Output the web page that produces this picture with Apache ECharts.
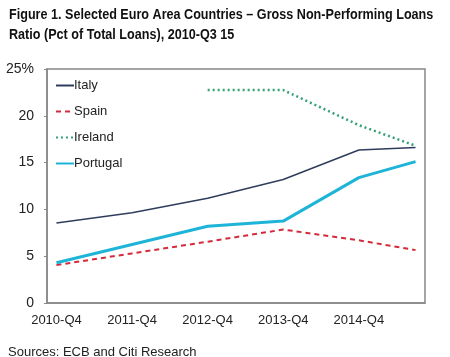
<!DOCTYPE html>
<html><head><meta charset="utf-8">
<script src="https://cdn.jsdelivr.net/npm/echarts@6/dist/echarts.min.js"></script>
<style>html,body{margin:0;padding:0;background:#fff}#c{width:450px;height:357px}</style>
</head><body><div id="c"></div>
<script>
const categories = ['2010-Q4','2011-Q1','2011-Q2','2011-Q3','2011-Q4','2012-Q1','2012-Q2','2012-Q3','2012-Q4','2013-Q1','2013-Q2','2013-Q3','2013-Q4','2014-Q1','2014-Q2','2014-Q3','2014-Q4','2015-Q1','2015-Q2','2015-Q3'];
const italy    = [8.55,null,null,null,9.65,null,null,null,11.2,null,null,null,13.2,null,null,null,16.35,null,null,16.6];
const spain    = [4.05,null,null,null,5.3,null,null,null,6.55,null,null,null,7.85,null,null,null,6.7,null,null,5.65];
const ireland  = [null,null,null,null,null,null,null,null,22.75,null,null,null,22.75,null,null,null,19.0,null,null,16.8];
const portugal = [4.3,null,null,null,6.25,null,null,null,8.2,null,null,null,8.75,null,null,null,13.4,null,null,15.1];
const yTicks = [0,5,10,15,20,25];
const titleLines = ['Figure 1. Selected Euro Area Countries – Gross Non-Performing Loans','Ratio (Pct of Total Loans), 2010-Q3 15'];

const FONT = '"Liberation Sans",Arial,sans-serif';
const chart = echarts.init(document.getElementById('c'));
const shown = new Set(['2010-Q4','2011-Q4','2012-Q4','2013-Q4','2014-Q4']);
function line(name, data, color, width, type){
  return {name, type:'line', data, connectNulls:true, symbol:'none', silent:true,
    lineStyle:{color, width, type}, itemStyle:{color}};
}
chart.setOption({
  animation:false,
  graphic:[
    {type:'text', x:9, y:5, scaleX:0.84, style:{text:titleLines.join('\n'), fontFamily:FONT, fontWeight:'bold', fontSize:15, lineHeight:20, fill:'#111'}},
    {type:'text', left:8, top:346, style:{text:'Sources: ECB and Citi Research', fontFamily:FONT, fontSize:13, fill:'#222'}}
  ],
  legend:{orient:'vertical', left:50, top:74, itemGap:13, itemWidth:18, itemHeight:10,
    itemStyle:{opacity:0},
    textStyle:{fontFamily:FONT, fontSize:13, color:'#222', padding:[0,0,0,-5]},
    data:['Italy','Spain','Ireland','Portugal']},
  grid:{left:47, right:25, top:69, bottom:54, show:true, borderColor:'#888', borderWidth:1.5},
  xAxis:{type:'category', data:categories, boundaryGap:true,
    axisLine:{lineStyle:{color:'#888', width:1.5}}, axisTick:{show:false},
    axisLabel:{interval:0, fontFamily:FONT, fontSize:13, color:'#222', margin:11,
      formatter:v=>shown.has(v)?v:''}},
  yAxis:{type:'value', min:0, max:25, interval:5, splitLine:{show:false},
    axisLine:{show:true, lineStyle:{color:'#888', width:1.5}},
    axisTick:{show:true, length:3, lineStyle:{color:'#888'}},
    axisLabel:{fontFamily:FONT, fontSize:14, color:'#222', margin:13,
      formatter:v=>yTicks.includes(v)?(v===25?'25%':String(v)):''}},
  series:[
    line('Italy', italy, '#2f3d5c', 1.5, 'solid'),
    line('Spain', spain, '#d42a3a', 2, [5,4]),
    line('Ireland', ireland, '#35a174', 2.5, [2,3]),
    line('Portugal', portugal, '#1eb4d8', 3, 'solid')
  ]
});
</script></body></html>
